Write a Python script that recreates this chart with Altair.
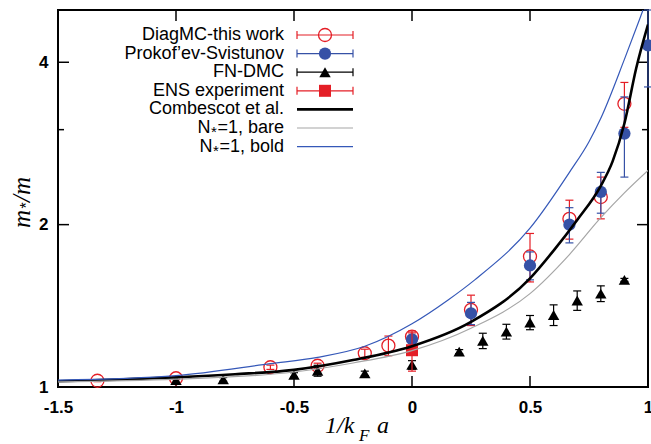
import altair as alt
import pandas as pd

# ---------------- data ----------------
# DiagMC - this work (open red circles)
diag_x = [-1.333, -1.0, -0.6, -0.4, -0.2, -0.1, 0.0, 0.25, 0.5, 0.667, 0.8, 0.9]
diag_y = [1.027, 1.038, 1.088, 1.095, 1.155, 1.193, 1.24, 1.39, 1.746, 2.05, 2.25, 3.35]
diag_e = [0.004, 0.006, 0.01, 0.012, 0.02, 0.05, 0.02, 0.09, 0.18, 0.17, 0.2, 0.32]

# Prokof'ev-Svistunov (filled blue circles)
ps_x = [0.0, 0.25, 0.5, 0.667, 0.8, 0.9, 1.0]
ps_y = [1.226, 1.37, 1.68, 2.0, 2.3, 2.95, 4.3]
ps_e = [0.02, 0.065, 0.1, 0.15, 0.2, 0.5, 0.7]

# FN-DMC (black triangles)
fn_x = [-1.0, -0.8, -0.5, -0.4, -0.2, 0.0, 0.2, 0.3, 0.4, 0.5, 0.6, 0.7, 0.8, 0.9]
fn_y = [1.03, 1.033, 1.053, 1.072, 1.06, 1.099, 1.163, 1.218, 1.267, 1.317, 1.36, 1.447, 1.49, 1.58]
fn_e = [0.01, 0.008, 0.01, 0.025, 0.01, 0.02, 0.01, 0.04, 0.04, 0.04, 0.06, 0.06, 0.05, 0.01]

# ENS experiment (red square)
ens_x = [0.0]
ens_y = [1.17]
ens_e = [0.10]

# Combescot et al. (thick black curve)
comb_x = [-1.5, -1.25, -1.0, -0.75, -0.5, -0.25, 0.0, 0.25, 0.5, 0.6, 0.7, 0.8, 0.85, 0.9, 0.95, 1.0]
comb_y = [1.025, 1.032, 1.042, 1.056, 1.076, 1.122, 1.19, 1.32, 1.59, 1.79, 2.04, 2.36, 2.62, 3.08, 3.9, 4.7]

# N*=1, bare (gray curve)
bare_x = [-1.5, -1.0, -0.5, -0.25, 0.0, 0.25, 0.5, 0.667, 0.8, 0.9, 1.0]
bare_y = [1.022, 1.034, 1.066, 1.108, 1.168, 1.285, 1.49, 1.76, 2.06, 2.29, 2.52]

# N*=1, bold (thin blue curve)
bold_x = [-1.5, -1.0, -0.6, -0.4, -0.2, 0.0, 0.153, 0.266, 0.5, 0.667, 0.75, 0.8, 0.9, 0.964, 1.0]
bold_y = [1.03, 1.05, 1.105, 1.135, 1.19, 1.31, 1.45, 1.58, 1.97, 2.5, 2.85, 3.15, 4.05, 4.8, 5.3]

legend_names = ["DiagMC-this work", "Prokof\u2019ev-Svistunov", "FN-DMC", "ENS experiment",
                "Combescot et al.", "N*=1, bare", "N*=1, bold"]

x_ticks = [-1.5, -1.0, -0.5, 0.0, 0.5, 1.0]
y_major = [1, 2, 4]
y_minor = [3]

# ---------------- styling ----------------
RED = "#e41e26"
BLUE_PT = "#3651a6"
BLUE_LN = "#3558b8"
GRAY = "#a6a6a6"
BLACK = "#000000"

W, H = 590, 377
xs = alt.Scale(domain=[-1.5, 1.0], nice=False, zero=False)
ys = alt.Scale(type="log", domain=[1, 5], nice=False)

lab_expr = "datum.value < 0 ? '-' + format(-datum.value, '~g') : format(datum.value, '~g')"

x_axis = alt.Axis(values=x_ticks, labelExpr=lab_expr, labelFont="Liberation Sans",
                  labelFontWeight="bold", labelFontSize=17, labelColor="black",
                  labelPadding=12, ticks=False, domain=False, grid=False, title="",
                  labelFlush=False, labelOverlap=False)
y_axis = alt.Axis(values=y_major, labelExpr=lab_expr, labelFont="Liberation Sans",
                  labelFontWeight="bold", labelFontSize=17, labelColor="black",
                  labelPadding=10, ticks=False, domain=False, grid=False,
                  labelFlush=False, labelOverlap=False, title="")


def X(f="x"):
    return alt.X(f"{f}:Q", scale=xs, axis=x_axis)


def Y(f="y"):
    return alt.Y(f"{f}:Q", scale=ys, axis=y_axis)


def sdf(x, y, e):
    return pd.DataFrame({"x": x, "y": y,
                         "lo": [a - b for a, b in zip(y, e)],
                         "hi": [a + b for a, b in zip(y, e)]})


def cdf(x, y):
    return pd.DataFrame({"x": x, "y": y})


layers = []

# ---- ticks (inward, mirrored) ----
xt = pd.DataFrame({"x": x_ticks})
layers.append(alt.Chart(xt).mark_rule(color=BLACK, strokeWidth=1.5).encode(
    x=X(), y=alt.value(H), y2=alt.value(H - 11)))
layers.append(alt.Chart(xt).mark_rule(color=BLACK, strokeWidth=1.5).encode(
    x=X(), y=alt.value(0), y2=alt.value(11)))
ytM = pd.DataFrame({"y": y_major})
ytm = pd.DataFrame({"y": y_minor})
layers.append(alt.Chart(ytM).mark_rule(color=BLACK, strokeWidth=1.5).encode(
    y=Y(), x=alt.value(0), x2=alt.value(11)))
layers.append(alt.Chart(ytM).mark_rule(color=BLACK, strokeWidth=1.5).encode(
    y=Y(), x=alt.value(W), x2=alt.value(W - 11)))
layers.append(alt.Chart(ytm).mark_rule(color=BLACK, strokeWidth=1.5).encode(
    y=Y(), x=alt.value(0), x2=alt.value(6)))
layers.append(alt.Chart(ytm).mark_rule(color=BLACK, strokeWidth=1.5).encode(
    y=Y(), x=alt.value(W), x2=alt.value(W - 6)))


def err_layers(df, color):
    out = []
    out.append(alt.Chart(df).mark_rule(color=color, strokeWidth=1.2).encode(
        x=X(), y=Y("lo"), y2="hi:Q"))
    for f in ["lo", "hi"]:
        out.append(alt.Chart(df).mark_tick(orient="horizontal", size=8, thickness=1.2,
                                           color=color, opacity=1).encode(x=X(), y=Y(f)))
    return out


d_diag = sdf(diag_x, diag_y, diag_e)
d_ps = sdf(ps_x, ps_y, ps_e)
d_fn = sdf(fn_x, fn_y, fn_e)
d_ens = sdf(ens_x, ens_y, ens_e)

layers += err_layers(d_diag, RED)
layers.append(alt.Chart(d_diag).mark_point(shape="circle", filled=False, size=169,
                                            strokeWidth=1.3, color=RED, opacity=1).encode(x=X(), y=Y()))
layers += err_layers(d_ps, BLUE_PT)
layers.append(alt.Chart(d_ps).mark_point(shape="circle", filled=True, size=150,
                                          color=BLUE_PT, opacity=1).encode(x=X(), y=Y()))
layers += err_layers(d_fn, BLACK)
layers.append(alt.Chart(d_fn).mark_point(shape="triangle-up", filled=True, size=130,
                                          color=BLACK, opacity=1).encode(x=X(), y=Y()))
layers += err_layers(d_ens, RED)
layers.append(alt.Chart(d_ens).mark_point(shape="square", filled=True, size=144,
                                           color=RED, opacity=1).encode(x=X(), y=Y()))

# ---- curves ----
layers.append(alt.Chart(cdf(comb_x, comb_y)).mark_line(color=BLACK, strokeWidth=2.6,
                                                        interpolate="monotone", clip=True).encode(x=X(), y=Y()))
layers.append(alt.Chart(cdf(bare_x, bare_y)).mark_line(color=GRAY, strokeWidth=1.2,
                                                        interpolate="monotone", clip=True).encode(x=X(), y=Y()))
layers.append(alt.Chart(cdf(bold_x, bold_y)).mark_line(color=BLUE_LN, strokeWidth=1.2,
                                                        interpolate="monotone", clip=True).encode(x=X(), y=Y()))

# ---- manual legend (labels left of symbols, gnuplot style) ----
LX_TEXT, LX0, LX1, LXM = 226, 239, 295, 267
LFS = 18
AW = {"=": 0.584, "1": 0.556, ",": 0.278, " ": 0.278, "b": 0.556, "a": 0.556,
      "r": 0.333, "e": 0.556, "o": 0.556, "l": 0.222, "d": 0.556}


def tw(s, fs):
    return sum(AW.get(c, 0.556) for c in s) * fs


leg_colors = [RED, BLUE_PT, BLACK, RED, BLACK, GRAY, BLUE_LN]
leg_widths = [1.2, 1.2, 1.2, 1.2, 2.6, 1.2, 1.2]
rows_y = [25 + i * 18.6 for i in range(len(legend_names))]
leg = pd.DataFrame({"name": legend_names, "ly": rows_y, "c": leg_colors, "w": leg_widths})
leg["lo"] = leg["ly"] - 4
leg["hi"] = leg["ly"] + 4

main_t, main_x, main_y = [], [], []
star_x, star_y = [], []
for name, ly in zip(legend_names, rows_y):
    if "*" in name:
        pre, post = name.split("*")
        wpost = tw(post, LFS)
        main_t += [post, pre]
        main_x += [LX_TEXT, LX_TEXT - wpost - 7]
        main_y += [ly, ly]
        star_x.append(LX_TEXT - wpost - 3.6)
        star_y.append(ly + 9.3)
    else:
        main_t.append(name)
        main_x.append(LX_TEXT)
        main_y.append(ly)
ltext = pd.DataFrame({"t": main_t, "lx": main_x, "ly": main_y})
lstar = pd.DataFrame({"t": ["*"] * len(star_x), "lx": star_x, "ly": star_y})

LXs = alt.X("lx:Q", scale=None, axis=None)
LY = alt.Y("ly:Q", scale=None, axis=None)

layers.append(alt.Chart(ltext).mark_text(align="right", baseline="middle", font="Liberation Sans",
                                         fontSize=LFS, color=BLACK).encode(x=LXs, y=LY, text="t:N"))
layers.append(alt.Chart(lstar).mark_text(align="center", baseline="alphabetic", font="Liberation Sans",
                                         fontSize=15, color=BLACK).encode(x=LXs, y=LY, text="t:N"))
layers.append(alt.Chart(leg).mark_rule().encode(
    x=alt.value(LX0), x2=alt.value(LX1), y=LY,
    color=alt.Color("c:N", scale=None), strokeWidth=alt.StrokeWidth("w:Q", scale=None)))
leg_err = leg.iloc[:4]
for lx in (LX0, LX1):
    layers.append(alt.Chart(leg_err).mark_rule(strokeWidth=1.2).encode(
        x=alt.value(lx), y=alt.Y("lo:Q", scale=None, axis=None), y2="hi:Q",
        color=alt.Color("c:N", scale=None)))
leg_marks = [
    dict(shape="circle", filled=False, size=169, strokeWidth=1.3, color=RED),
    dict(shape="circle", filled=True, size=150, color=BLUE_PT),
    dict(shape="triangle-up", filled=True, size=130, color=BLACK),
    dict(shape="square", filled=True, size=144, color=RED),
]
for i, mk in enumerate(leg_marks):
    layers.append(alt.Chart(leg.iloc[[i]]).mark_point(opacity=1, **mk).encode(
        x=alt.value(LXM), y=LY))

# ---- x axis title: 1/k_F a ----
serif = dict(font="Liberation Serif", fontStyle="italic", color=BLACK, baseline="alphabetic")


def txt(s):
    return pd.DataFrame({"t": [s]})


layers.append(alt.Chart(txt("1/k")).mark_text(fontSize=24, align="left", **serif).encode(
    text="t:N", x=alt.value(267), y=alt.value(423)))
layers.append(alt.Chart(txt("F")).mark_text(fontSize=17, align="left", **serif).encode(
    text="t:N", x=alt.value(301), y=alt.value(431)))
layers.append(alt.Chart(txt("a")).mark_text(fontSize=24, align="left", **serif).encode(
    text="t:N", x=alt.value(319), y=alt.value(423)))

# ---- y axis title: m_* / m (rotated) ----
layers.append(alt.Chart(txt("m")).mark_text(fontSize=25, align="left", angle=270, **serif).encode(
    text="t:N", x=alt.value(-28), y=alt.value(218)))
layers.append(alt.Chart(txt("*")).mark_text(fontSize=16, align="center", angle=270,
                                             font="Liberation Sans", baseline="alphabetic",
                                             color=BLACK).encode(
    text="t:N", x=alt.value(-25.6), y=alt.value(195.5)))
layers.append(alt.Chart(txt("/m")).mark_text(fontSize=25, align="left", angle=270, **serif).encode(
    text="t:N", x=alt.value(-28), y=alt.value(192)))

chart = alt.layer(*layers).properties(
    width=W, height=H,
    padding={"left": 58, "top": 10, "right": 3, "bottom": 57},
    autosize=alt.AutoSizeParams(type="none"),
    background="white",
).configure_view(stroke=BLACK, strokeWidth=2)

chart.save("out.html", embed_options={"renderer": "svg", "actions": False})
